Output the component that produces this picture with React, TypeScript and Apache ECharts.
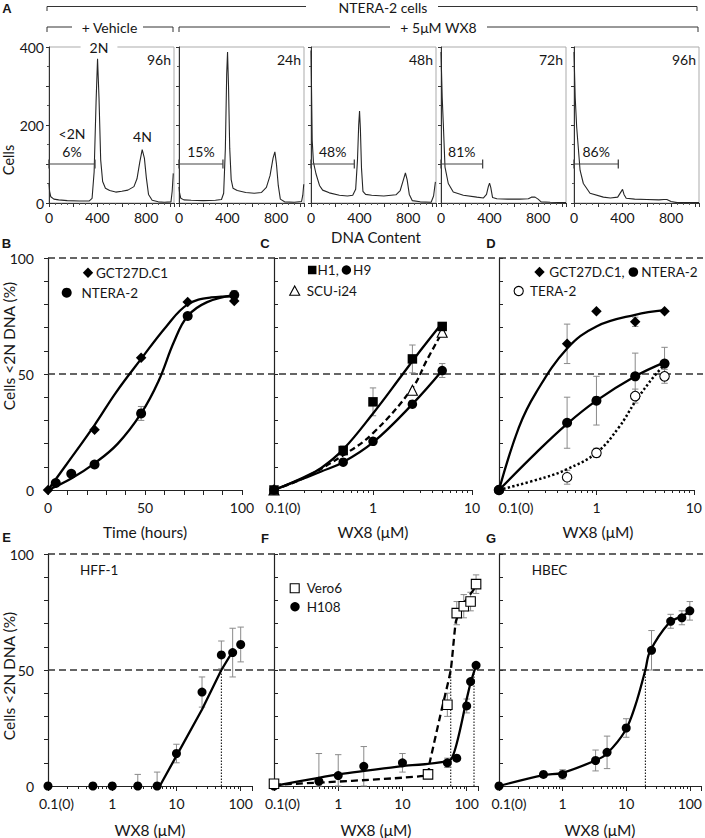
import React, { useEffect, useRef } from 'react';
import * as echarts from 'echarts';

const FONT = 'Lato, "Noto Sans", sans-serif';
const INK = '#161616';
const TICK_FS = 14;
const TITLE_FS = 15.5;
const NOTE_FS = 13.5;

// ---------------- Panel A : DNA histograms [DNA content, cells] ----------------
const histVehicle96h = [[0,50],[5,30],[15,16],[40,10],[80,8],[150,6],[250,5],[330,5],[355,12],[372,80],[388,260],[400,370],[412,270],[426,110],[442,55],[465,38],[500,32],[550,28],[600,30],[650,33],[700,42],[725,62],[748,105],[768,137],[786,115],[802,65],[820,22],[850,7],[900,3],[950,2],[1005,3],[1015,30],[1024,76]];
const histWX8_24h = [[0,41],[5,25],[15,12],[40,8],[100,7],[200,6],[300,7],[350,9],[368,25],[382,140],[393,330],[400,387],[408,300],[418,140],[430,60],[445,38],[480,32],[550,27],[620,25],[680,27],[720,40],[750,70],[775,115],[790,131],[803,100],[818,45],[835,10],[870,3],[950,2],[1010,4],[1020,20],[1028,48]];
const histWX8_48h = [[0,391],[4,300],[10,160],[20,105],[41,75],[70,45],[96,33],[151,26],[234,20],[300,18],[344,20],[368,35],[383,110],[393,200],[400,236],[407,190],[416,90],[428,30],[450,22],[500,20],[600,18],[700,21],[735,32],[760,58],[778,77],[792,60],[810,22],[835,6],[900,3],[990,2],[1010,18],[1025,54]];
const histWX8_72h = [[0,387],[4,340],[10,270],[19,204],[33,92],[60,50],[101,28],[184,20],[295,15],[350,13],[375,22],[390,42],[400,51],[410,40],[425,14],[460,11],[550,10],[650,10],[720,11],[745,15],[775,15],[800,10],[825,3],[900,2],[1030,1]];
const histWX8_96h = [[0,387],[4,340],[10,270],[22,195],[50,84],[77,50],[132,25],[242,15],[300,13],[360,15],[382,26],[400,35],[412,22],[430,12],[500,10],[600,9],[700,8],[740,9],[765,9],[800,4],[850,1],[1030,1]];
const histPanels = [histVehicle96h, histWX8_24h, histWX8_48h, histWX8_72h, histWX8_96h];
const histTimeLabels = ['96h', '24h', '48h', '72h', '96h'];
const sub2NPercent = ['6%', '15%', '48%', '81%', '86%'];
const sub2NGateEnd = [379, 362, 357, 343, 365];
const sub2NGateLevel = 100;
const histXLabels = [0, 400, 800];
const histYLabels = [0, 200, 400];

// ---------------- Panel B : time course ----------------
const timeGCT = [0, 24, 48, 72, 96];
const pctGCT_time = [0, 26, 57, 81, 81.5];
const timeNT = [4, 12, 24, 48, 72, 96];
const pctNT_time = [3, 7, 11, 33, 75, 84];
const sdNT_time = [0, 0, 1, 3, 1, 2];
const fitGCT_time = [[0,0],[9.5,11],[24,28],[35,42],[48,56.5],[61,70.5],[72,80],[84,83],[96,83.5]];
const fitNT_time = [[0,0],[12,5],[24,11.5],[36,20],[48,33],[57,47],[65,64],[72,75],[82,81],[96,84]];

// ---------------- Panel C : hESC / iPSC dose ----------------
const concC = [0.1, 0.5, 1, 2.5, 5];
const pctH1 = [0, 17, 38, 56.5, 70.5];
const sdH1 = [0, 2, 6, 6, 1.5];
const pctH9 = [0, 12, 21, 37, 51.5];
const sdH9 = [0, 1, 1.5, 1.5, 3];
const concSCU = [0.1, 2.5, 5];
const pctSCU = [0, 43, 68];
const fitH1 = [[0.1,0],[0.2,5.5],[0.3,9.5],[0.5,17.5],[1,33],[2,50],[3,60],[5,72]];
const fitH9 = [[0.1,0],[0.2,5],[0.3,8],[0.5,12],[1,20.5],[2.5,37],[5,51.5]];
const fitSCU = [[0.1,0],[0.2,5.2],[0.5,15],[1,24.5],[2.5,44],[3.5,56],[5,68]];

// ---------------- Panel D : germ cell tumour lines ----------------
const concD = [0.1, 0.5, 1, 2.5, 5];
const pctGCT_D = [0, 63, 77, 72.5, 77];
const sdGCT_D = [0, 8.5, 0, 2, 0];
const pctNT_D = [0, 29, 38.5, 49, 54.5];
const sdNT_D = [0, 11, 10.5, 10, 7];
const pctTERA_D = [0, 5.5, 16, 40.5, 49];
const sdTERA_D = [0, 3, 2, 3, 3];
const fitGCT_D = [[0.1,0],[0.16,27],[0.24,42],[0.5,61],[1,70.5],[2.5,75.5],[5,77.5]];
const fitNT_D = [[0.1,0],[0.24,16],[0.5,28.5],[1,38.5],[2.5,49],[5,55]];
const fitTERA_D = [[0.1,0],[0.3,5.5],[0.5,9],[1,16],[1.7,27],[2.5,38],[3.9,49],[5,54]];

// ---------------- Panel E : HFF-1 ----------------
const concE = [0.1, 0.5, 1, 2.5, 5, 10, 25, 50, 75, 100];
const pctHFF = [0, 0, 0, 0, 0, 14, 40.5, 56.5, 57.5, 61];
const sdHFF = [0, 1, 1, 5, 6, 4, 6.5, 6, 10.5, 7.5];
const fitHFF = [[5.5,0],[10,13],[25,33],[50,50],[75,58]];
const ic50HFF = 50;

// ---------------- Panel F : Vero6 / H108 ----------------
const concVero = [0.1, 25, 50, 70, 90, 115, 140];
const pctVero = [1, 5, 35, 74.5, 77.5, 79.5, 87];
const sdVero = [0, 0, 5, 5, 5, 4, 4];
const concH108 = [0.1, 0.5, 1, 2.5, 10, 50, 70, 100, 115, 140];
const pctH108 = [0, 2, 4.5, 8.5, 10, 10, 12, 34.5, 45, 52];
const sdH108 = [0, 12, 9, 8.5, 4, 2, 0, 3, 0, 0];
const fitVero = [[0.1,0.5],[24,4.5],[26.5,10],[38.5,30],[56.5,50],[68,71],[89,78.5],[140,86]];
const fitH108 = [[0.1,0],[1,5],[10,8.6],[57,11.5],[100,37.5],[115,44.5],[140,52]];
const ic50Vero = 56.5;
const ic50H108 = 130;

// ---------------- Panel G : HBEC ----------------
const concG = [0.1, 0.5, 1, 3.3, 5, 10, 25, 50, 75, 100];
const pctHBEC = [0, 5, 5, 11, 14.5, 25, 58.5, 71, 72.5, 75.5];
const sdHBEC = [0, 0, 2, 4.5, 7, 4, 8.5, 3, 3, 4];
const fitHBEC = [[0.1,0],[0.5,4.7],[1,5.7],[3.4,11.2],[5,14],[9.6,23.7],[13.8,34.4],[20,50],[23.6,58],[47,70.3],[71,72.9],[100,75]];
const ic50HBEC = 20;

// ---------------- layout ----------------
const HIST_LEFT = [49, 179, 311, 441, 574];
const HIST_W = 125, HIST_TOP = 47, HIST_H = 156, HIST_XMAX = 1030, HIST_YMAX = 400;
const ROW_TOP = [258, 554];
const ROW_H = 232;
const LOG_MAX_ROW2 = Math.log10(150);

const lg = (c: number) => Math.log10(c);
type Ax = { x: number; y: number };

let measureCtx: CanvasRenderingContext2D | null = null;
function measure(t: string, size: number) {
  if (!measureCtx) measureCtx = document.createElement('canvas').getContext('2d');
  if (!measureCtx) return t.length * size * 0.55;
  measureCtx.font = `${size}px ${FONT}`;
  return measureCtx.measureText(t).width;
}

function buildOption() {
  const grid: any[] = [], xAxis: any[] = [], yAxis: any[] = [], series: any[] = [];
  const lbl = { fontFamily: FONT, fontSize: TICK_FS, color: INK };
  const axLine = { color: '#222', width: 1.2 };

  const hist: Ax[] = [];
  histPanels.forEach((data, i) => {
    const gi = grid.length;
    grid.push({ left: HIST_LEFT[i], top: HIST_TOP, width: HIST_W, height: HIST_H, show: true, borderColor: '#ababab', borderWidth: 1, backgroundColor: 'transparent' });
    const xi = xAxis.length;
    xAxis.push({
      type: 'value', gridIndex: gi, min: 0, max: HIST_XMAX, interval: 200,
      axisLine: { onZero: false, lineStyle: { color: '#333', width: 1 } },
      axisTick: { length: 4, lineStyle: { color: '#333' } },
      minorTick: { show: true, splitNumber: 4, length: 2, lineStyle: { color: '#555' } },
      splitLine: { show: false }, minorSplitLine: { show: false },
      axisLabel: { ...lbl, margin: 7, formatter: (v: number) => (histXLabels.includes(v) ? String(v) : '') },
    });
    const yi = yAxis.length;
    yAxis.push({
      type: 'value', gridIndex: gi, min: 0, max: HIST_YMAX, interval: 100,
      axisLine: { show: true, onZero: false, lineStyle: { color: '#333', width: 1 } },
      axisTick: { show: true, length: 3, lineStyle: { color: '#333' } },
      minorTick: { show: true, splitNumber: 2, length: 2, lineStyle: { color: '#555' } },
      splitLine: { show: false }, minorSplitLine: { show: false },
      axisLabel: { show: i === 0, ...lbl, margin: 5, formatter: (v: number) => (histYLabels.includes(v) ? String(v) : '') },
    });
    hist.push({ x: xi, y: yi });
    series.push({ type: 'line', xAxisIndex: xi, yAxisIndex: yi, data, symbol: 'none', smooth: false, lineStyle: { color: '#262626', width: 1.1 }, z: 3, silent: true });
    series.push({
      type: 'line', xAxisIndex: xi, yAxisIndex: yi,
      data: [[0, sub2NGateLevel], [sub2NGateEnd[i], sub2NGateLevel]],
      symbol: 'rect', symbolSize: [1.3, 9], showSymbol: true, showAllSymbol: true,
      lineStyle: { color: '#444', width: 1.2 }, itemStyle: { color: '#444' }, z: 4, silent: true,
    });
  });

  const pctY = (gi: number, labels: boolean) => ({
    type: 'value', gridIndex: gi, min: 0, max: 100, interval: 10,
    axisLine: { show: true, onZero: false, lineStyle: axLine },
    axisTick: { show: true, inside: !labels, length: 4, lineStyle: { color: '#222' } },
    splitLine: { show: false },
    axisLabel: { show: labels, ...lbl, margin: 14, formatter: (v: number) => (v % 50 === 0 ? String(v) : '') },
  });
  const linX = (gi: number) => ({
    type: 'value', gridIndex: gi, min: 0, max: 100, interval: 10,
    axisLine: { onZero: false, lineStyle: axLine },
    axisTick: { length: 5, lineStyle: { color: '#222' } },
    splitLine: { show: false },
    axisLabel: { ...lbl, margin: 10, formatter: (v: number) => (v % 50 === 0 ? String(v) : '') },
  });
  const logMajor = (gi: number, max: number, zeroPad: number) => ({
    type: 'value', gridIndex: gi, min: -1, max, interval: 1, position: 'bottom',
    axisLine: { onZero: false, lineStyle: axLine },
    axisTick: { length: 5, lineStyle: { color: '#222' } },
    splitLine: { show: false },
    axisLabel: {
      ...lbl, margin: 10,
      formatter: (v: number) => {
        if (Math.abs(v - Math.round(v)) > 1e-6) return '';
        const r = Math.round(v);
        if (r === -1) return '{z|0.1(0)}';
        return String(Math.round(Math.pow(10, r)));
      },
      rich: { z: { ...lbl, padding: [0, 0, 0, zeroPad] } },
    },
  });
  const logMinor = (gi: number, max: number) => {
    const vals: number[] = [];
    for (let n = -1; n <= 2; n++) for (let k = 2; k <= 9; k++) {
      const v = Math.log10(k * Math.pow(10, n));
      if (v <= max + 1e-9) vals.push(v);
    }
    return {
      type: 'value', gridIndex: gi, min: -1, max, interval: 1, position: 'bottom',
      axisLine: { show: false, onZero: false },
      axisLabel: { show: false },
      splitLine: { show: false },
      axisTick: { show: true, length: 3, customValues: vals, lineStyle: { color: '#222' } },
    };
  };

  const panel = (left: number, top: number, width: number, kind: 'lin' | 'log', max: number, showY: boolean, zeroPad: number): Ax => {
    const gi = grid.length;
    grid.push({ left, top, width, height: ROW_H });
    const xi = xAxis.length;
    if (kind === 'lin') xAxis.push(linX(gi));
    else { xAxis.push(logMajor(gi, max, zeroPad)); xAxis.push(logMinor(gi, max)); }
    const yi = yAxis.length;
    yAxis.push(pctY(gi, showY));
    return { x: xi, y: yi };
  };

  const B = panel(48, ROW_TOP[0], 194, 'lin', 100, true, 0);
  const C = panel(274, ROW_TOP[0], 198, 'log', 1, false, 18);
  const D = panel(499, ROW_TOP[0], 198, 'log', 1, false, 34);
  const E = panel(48, ROW_TOP[1], 204, 'log', LOG_MAX_ROW2, true, 17);
  const F = panel(274, ROW_TOP[1], 204, 'log', LOG_MAX_ROW2, false, 17);
  const G = panel(499, ROW_TOP[1], 204, 'log', LOG_MAX_ROW2, false, 20);

  const pts = (xs: number[], ys: number[], log: boolean) => xs.map((x, i) => [log ? lg(x) : x, ys[i]]);
  const fitPts = (arr: number[][], log: boolean) => arr.map(([x, y]) => [log ? lg(x) : x, y]);
  const errPts = (xs: number[], ys: number[], sds: number[], log: boolean) =>
    xs.map((x, i) => [log ? lg(x) : x, Math.max(0, ys[i] - sds[i]), ys[i] + sds[i]]).filter((_, i) => sds[i] > 0);

  const markers = (ax: Ax, data: number[][], symbol: string, size: number, open = false) => ({
    type: 'scatter', xAxisIndex: ax.x, yAxisIndex: ax.y, data, symbol, symbolSize: size,
    itemStyle: open ? { color: '#fff', borderColor: '#000', borderWidth: 1.1, opacity: 1 } : { color: '#000', opacity: 1 },
    z: 6, silent: true,
  });
  const fitLine = (ax: Ax, data: number[][], type: any, smooth: number | boolean = 0.4, width = 2.3) => ({
    type: 'line', xAxisIndex: ax.x, yAxisIndex: ax.y, data, smooth, symbol: 'none',
    lineStyle: { color: '#000', width, type }, z: 4, silent: true,
  });
  const errBars = (ax: Ax, data: number[][]) => ({
    type: 'custom', xAxisIndex: ax.x, yAxisIndex: ax.y, data, z: 3, silent: true,
    encode: { x: 0, y: [1, 2] },
    renderItem: (_p: any, api: any) => {
      const x = api.value(0), lo = api.value(1), hi = api.value(2);
      const a = api.coord([x, hi]), b = api.coord([x, lo]);
      const cw = 3.2;
      const st = { stroke: '#8a8a8a', lineWidth: 1 };
      return {
        type: 'group', children: [
          { type: 'line', shape: { x1: a[0], y1: a[1], x2: b[0], y2: b[1] }, style: st },
          { type: 'line', shape: { x1: a[0] - cw, y1: a[1], x2: a[0] + cw, y2: a[1] }, style: st },
          { type: 'line', shape: { x1: b[0] - cw, y1: b[1], x2: b[0] + cw, y2: b[1] }, style: st },
        ],
      };
    },
  });
  const ic50 = (ax: Ax, c: number) => ({
    type: 'line', xAxisIndex: ax.x, yAxisIndex: ax.y, data: [[lg(c), 0], [lg(c), 50]], symbol: 'none',
    lineStyle: { color: '#000', width: 1, type: [1.5, 1.5] }, z: 2, silent: true,
  });

  // B
  series.push(errBars(B, errPts(timeNT, pctNT_time, sdNT_time, false)));
  series.push(fitLine(B, fitPts(fitGCT_time, false), 'solid', 0.4));
  series.push(fitLine(B, fitPts(fitNT_time, false), 'solid', 0.4));
  series.push(markers(B, pts(timeGCT, pctGCT_time, false), 'diamond', 10.5));
  series.push(markers(B, pts(timeNT, pctNT_time, false), 'circle', 10));

  // C
  series.push(errBars(C, errPts(concC, pctH1, sdH1, true)));
  series.push(errBars(C, errPts(concC, pctH9, sdH9, true)));
  series.push(fitLine(C, fitPts(fitH1, true), 'solid'));
  series.push(fitLine(C, fitPts(fitH9, true), 'solid'));
  series.push(fitLine(C, fitPts(fitSCU, true), [6, 3.5]));
  series.push(markers(C, pts(concSCU, pctSCU, true), 'triangle', 10, true));
  series.push(markers(C, pts(concC, pctH9, true), 'circle', 9.5));
  series.push(markers(C, pts(concC, pctH1, true), 'rect', 9.5));

  // D
  series.push(errBars(D, errPts(concD, pctGCT_D, sdGCT_D, true)));
  series.push(errBars(D, errPts(concD, pctNT_D, sdNT_D, true)));
  series.push(errBars(D, errPts(concD, pctTERA_D, sdTERA_D, true)));
  series.push(fitLine(D, fitPts(fitGCT_D, true), 'solid'));
  series.push(fitLine(D, fitPts(fitNT_D, true), 'solid'));
  series.push(fitLine(D, fitPts(fitTERA_D, true), [2.3, 2.3], 0.4, 2.5));
  series.push(markers(D, pts(concD, pctTERA_D, true), 'circle', 9.5, true));
  series.push(markers(D, pts(concD, pctNT_D, true), 'circle', 10));
  series.push(markers(D, pts(concD, pctGCT_D, true), 'diamond', 10.5));

  // E
  series.push(errBars(E, errPts(concE, pctHFF, sdHFF, true)));
  series.push(ic50(E, ic50HFF));
  series.push(fitLine(E, fitPts(fitHFF, true), 'solid', false));
  series.push(markers(E, pts(concE, pctHFF, true), 'circle', 9));

  // F
  series.push(errBars(F, errPts(concVero, pctVero, sdVero, true)));
  series.push(errBars(F, errPts(concH108, pctH108, sdH108, true)));
  series.push(ic50(F, ic50Vero));
  series.push(ic50(F, ic50H108));
  series.push(fitLine(F, fitPts(fitH108, true), 'solid', 0.15));
  series.push(fitLine(F, fitPts(fitVero, true), [7, 4], 0.15));
  series.push(markers(F, pts(concH108, pctH108, true), 'circle', 9));
  series.push(markers(F, pts(concVero, pctVero, true), 'rect', 9.5, true));

  // G
  series.push(errBars(G, errPts(concG, pctHBEC, sdHBEC, true)));
  series.push(ic50(G, ic50HBEC));
  series.push(fitLine(G, fitPts(fitHBEC, true), 'solid', 0.35));
  series.push(markers(G, pts(concG, pctHBEC, true), 'circle', 9));

  const option = {
    animation: false,
    backgroundColor: '#fff',
    textStyle: { fontFamily: FONT },
    grid, xAxis, yAxis, series,
  };
  return { option, hist, B, E };
}

function buildGraphics(chart: any, meta: { hist: Ax[]; B: Ax; E: Ax }) {
  const P = (ax: Ax, x: number, y: number) => chart.convertToPixel({ xAxisIndex: ax.x, yAxisIndex: ax.y }, [x, y]) as number[];
  const els: any[] = [];
  const text = (x: number, y: number, t: string, o: any = {}) => {
    const { rotation, z, ...style } = o;
    els.push({
      type: 'text', x, y, rotation: rotation || 0, z: z ?? 10, silent: true,
      style: { text: t, fontFamily: FONT, fontSize: NOTE_FS, fill: INK, align: 'center', verticalAlign: 'middle', ...style },
    });
  };
  const line = (x1: number, y1: number, x2: number, y2: number, st: any = {}) => {
    els.push({ type: 'line', z: 1, silent: true, shape: { x1, y1, x2, y2 }, style: { stroke: '#333', lineWidth: 1, ...st } });
  };

  // panel letters
  const letter = (x: number, y: number, t: string) => text(x, y, t, { fontFamily: 'Liberation Sans, Arial, sans-serif', fontWeight: 'bold', fontSize: 13 });
  letter(7, 8.5, 'A'); letter(6.5, 243, 'B'); letter(265, 243, 'C'); letter(491, 243, 'D');
  letter(6.5, 537, 'E'); letter(265, 538, 'F'); letter(491, 538, 'G');

  // top brackets
  line(47, 6.5, 306, 6.5); line(438, 6.5, 697, 6.5); line(47, 6.5, 47, 11); line(697, 6.5, 697, 11);
  text(383, 7, 'NTERA-2 cells', { fontSize: 14 });
  line(47, 27, 72, 27); line(143, 27, 173, 27); line(47, 27, 47, 32); line(173, 27, 173, 32);
  text(109.5, 27, '+ Vehicle', { fontSize: 14 });
  line(179, 27, 390, 27); line(487, 27, 698, 27); line(179, 27, 179, 32); line(698, 27, 698, 32);
  text(438.5, 27, '+ 5μM WX8', { fontSize: 14 });

  // panel A annotations
  text(8, 160, 'Cells', { rotation: Math.PI / 2, fontSize: 14.5 });
  text(376, 237, 'DNA Content', { fontSize: 15 });
  meta.hist.forEach((ax, i) => {
    const p0 = P(ax, 0, sub2NGateLevel), p1 = P(ax, sub2NGateEnd[i], sub2NGateLevel);
    const mid = (p0[0] + p1[0]) / 2;
    text(mid, P(ax, 0, 132.5)[1], sub2NPercent[i], { fontSize: 14 });
    const pr = P(ax, HIST_XMAX, 368);
    text(pr[0] - 3, pr[1], histTimeLabels[i], { align: 'right', fontSize: 14 });
    if (i === 0) {
      text(mid, P(ax, 0, 179)[1], '<2N', { fontSize: 14 });
      const p2 = P(ax, 412, HIST_YMAX);
      text(p2[0], p2[1], '2N', { backgroundColor: '#fff', padding: [1, 9], z: 100, fontSize: 14 });
      const p4 = P(ax, 770, 171);
      text(p4[0], p4[1], '4N', { fontSize: 14 });
    }
  });

  // reference dashed lines across rows
  [meta.B, meta.E].forEach((ax) => {
    [100, 50].forEach((v) => {
      const p = P(ax, ax === meta.E ? -1 : 0, v);
      line(p[0], p[1], 703, p[1], { stroke: '#333', lineWidth: 1.3, lineDash: [7, 4] });
    });
  });

  // axis titles
  text(8.5, 346, 'Cells <2N DNA (%)', { rotation: Math.PI / 2, fontSize: TITLE_FS });
  text(8.5, 676, 'Cells <2N DNA (%)', { rotation: Math.PI / 2, fontSize: TITLE_FS });
  text(145, 532, 'Time (hours)', { fontSize: TITLE_FS });
  text(373, 532, 'WX8 (μM)', { fontSize: TITLE_FS });
  text(598, 532, 'WX8 (μM)', { fontSize: TITLE_FS });
  text(150, 830, 'WX8 (μM)', { fontSize: TITLE_FS });
  text(376, 830, 'WX8 (μM)', { fontSize: TITLE_FS });
  text(600, 830, 'WX8 (μM)', { fontSize: TITLE_FS });

  // legends
  const diamond = (cx: number, cy: number, r: number) => els.push({ type: 'polygon', z: 10, silent: true, shape: { points: [[cx, cy - r], [cx + r, cy], [cx, cy + r], [cx - r, cy]] }, style: { fill: '#000' } });
  const dot = (cx: number, cy: number, r: number, open = false) => els.push({ type: 'circle', z: 10, silent: true, shape: { cx, cy, r }, style: open ? { fill: '#fff', stroke: '#000', lineWidth: 1.1 } : { fill: '#000' } });
  const sq = (cx: number, cy: number, s: number, open = false) => els.push({ type: 'rect', z: 10, silent: true, shape: { x: cx - s / 2, y: cy - s / 2, width: s, height: s }, style: open ? { fill: '#fff', stroke: '#000', lineWidth: 1.1 } : { fill: '#000' } });
  const tri = (cx: number, cy: number, r: number) => els.push({ type: 'polygon', z: 10, silent: true, shape: { points: [[cx, cy - r], [cx + r, cy + r * 0.85], [cx - r, cy + r * 0.85]] }, style: { fill: '#fff', stroke: '#000', lineWidth: 1.1 } });
  const L = { align: 'left' };
  const W = (t: string) => measure(t, NOTE_FS);

  diamond(88, 272.7, 5.2); text(96, 272.7, 'GCT27D.C1', L);
  dot(66.7, 292.7, 5); text(81.5, 292.7, 'NTERA-2', L);

  {
    let x = 308;
    sq(x + 4.2, 270, 8.5); x += 9.5;
    text(x, 270, 'H1,', L); x += W('H1,') + 3;
    dot(x + 4.7, 270, 4.7); x += 9.4 + 2;
    text(x, 270, 'H9', L);
  }
  tri(294.7, 291, 5); text(306.7, 291, 'SCU-i24', L);

  {
    let x = 534.3;
    diamond(x + 5.2, 272, 5.2); x += 15;
    text(x, 272, 'GCT27D.C1,', L); x += W('GCT27D.C1,') + 4;
    dot(x + 4.8, 272, 4.8); x += 9.6 + 3;
    text(x, 272, 'NTERA-2', L);
  }
  dot(518.7, 291, 4.6, true); text(530, 291, 'TERA-2', L);

  text(80, 570, 'HFF-1', L);
  sq(294.7, 588.3, 9, true); text(306.7, 588.3, 'Vero6', L);
  dot(295, 606.7, 4.7); text(306.7, 606.7, 'H108', L);
  text(531.7, 570, 'HBEC', L);

  return els;
}

export default function App() {
  const ref = useRef<HTMLDivElement>(null);
  useEffect(() => {
    if (!ref.current) return;
    const chart = echarts.init(ref.current, undefined, { renderer: 'svg' });
    const { option, hist, B, E } = buildOption();
    chart.setOption(option as any);
    chart.setOption({ graphic: { elements: buildGraphics(chart, { hist, B, E }) } } as any);
    return () => chart.dispose();
  }, []);
  return <div ref={ref} style={{ position: 'absolute', left: 0, top: 0, width: 705, height: 838, background: '#fff' }} />;
}
